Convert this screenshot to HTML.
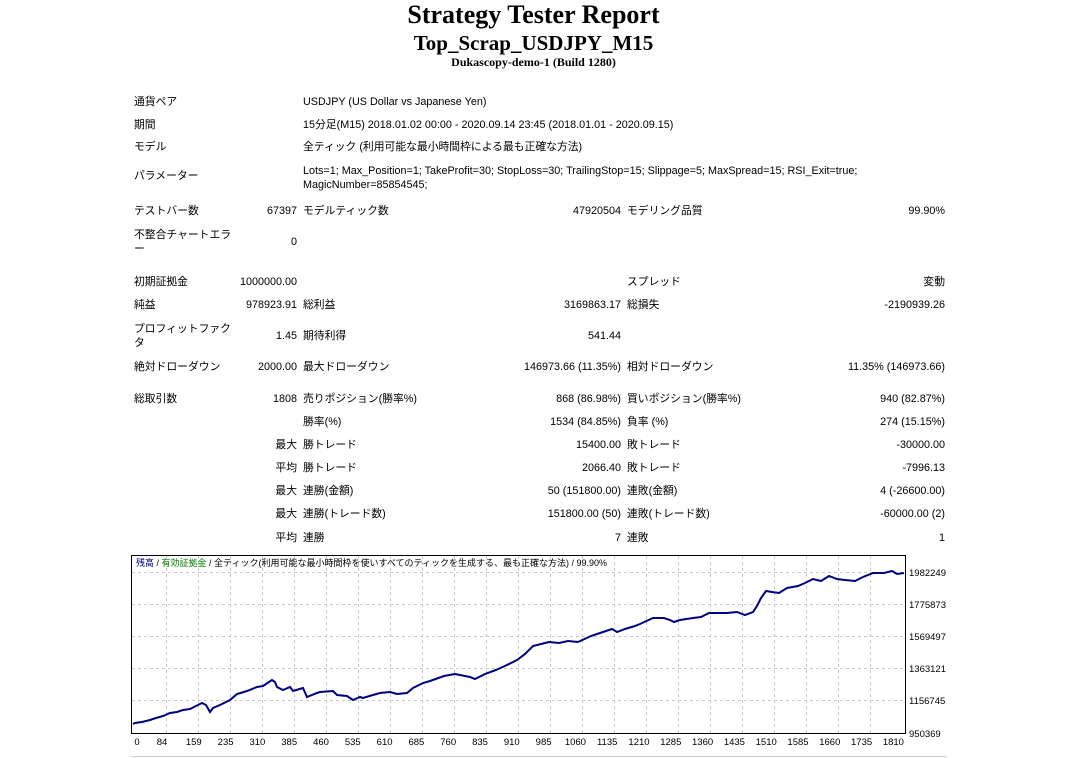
<!DOCTYPE html>
<html><head><meta charset="utf-8">
<style>
body{margin:0;width:1067px;height:758px;background:#fff;position:relative;overflow:hidden;font-family:"Liberation Sans","Noto Sans CJK JP",sans-serif;font-size:10.8px;color:#000}
.t{position:absolute;line-height:14px;white-space:nowrap}
.r{text-align:right}
.h{position:absolute;left:0;width:1067px;text-align:center;font-family:"Liberation Serif",serif;font-weight:bold;white-space:nowrap}
</style></head><body>
<div class="h" style="top:0px;font-size:26px;">Strategy Tester Report</div>
<div class="h" style="top:31px;font-size:21px;">Top_Scrap_USDJPY_M15</div>
<div class="h" style="top:55px;font-size:12px;">Dukascopy-demo-1 (Build 1280)</div>

<div class="t" style="left:134px;top:95px">通貨ペア</div><div class="t" style="left:303px;top:95px">USDJPY (US Dollar vs Japanese Yen)</div>
<div class="t" style="left:134px;top:118px">期間</div><div class="t" style="left:303px;top:118px">15分足(M15) 2018.01.02 00:00 - 2020.09.14 23:45 (2018.01.01 - 2020.09.15)</div>
<div class="t" style="left:134px;top:140px">モデル</div><div class="t" style="left:303px;top:140px">全ティック (利用可能な最小時間枠による最も正確な方法)</div>
<div class="t" style="left:134px;top:169px">パラメーター</div><div class="t" style="left:303px;top:164px">Lots=1; Max_Position=1; TakeProfit=30; StopLoss=30; TrailingStop=15; Slippage=5; MaxSpread=15; RSI_Exit=true;<br>MagicNumber=85854545;</div>

<div class="t" style="left:134px;top:204px">テストバー数</div><div class="t r" style="right:770px;top:204px">67397</div>
<div class="t" style="left:303px;top:204px">モデルティック数</div><div class="t r" style="right:446px;top:204px">47920504</div>
<div class="t" style="left:627px;top:204px">モデリング品質</div><div class="t r" style="right:122px;top:204px">99.90%</div>
<div class="t" style="left:134px;top:228px">不整合チャートエラ<br>ー</div><div class="t r" style="right:770px;top:235px">0</div>

<div class="t" style="left:134px;top:275px">初期証拠金</div><div class="t r" style="right:770px;top:275px">1000000.00</div>
<div class="t" style="left:627px;top:275px">スプレッド</div><div class="t r" style="right:122px;top:275px">変動</div>
<div class="t" style="left:134px;top:298px">純益</div><div class="t r" style="right:770px;top:298px">978923.91</div>
<div class="t" style="left:303px;top:298px">総利益</div><div class="t r" style="right:446px;top:298px">3169863.17</div>
<div class="t" style="left:627px;top:298px">総損失</div><div class="t r" style="right:122px;top:298px">-2190939.26</div>
<div class="t" style="left:134px;top:322px">プロフィットファク<br>タ</div><div class="t r" style="right:770px;top:329px">1.45</div>
<div class="t" style="left:303px;top:329px">期待利得</div><div class="t r" style="right:446px;top:329px">541.44</div>
<div class="t" style="left:134px;top:360px">絶対ドローダウン</div><div class="t r" style="right:770px;top:360px">2000.00</div>
<div class="t" style="left:303px;top:360px">最大ドローダウン</div><div class="t r" style="right:446px;top:360px">146973.66 (11.35%)</div>
<div class="t" style="left:627px;top:360px">相対ドローダウン</div><div class="t r" style="right:122px;top:360px">11.35% (146973.66)</div>

<div class="t" style="left:134px;top:392px">総取引数</div><div class="t r" style="right:770px;top:392px">1808</div>
<div class="t" style="left:303px;top:392px">売りポジション(勝率%)</div><div class="t r" style="right:446px;top:392px">868 (86.98%)</div>
<div class="t" style="left:627px;top:392px">買いポジション(勝率%)</div><div class="t r" style="right:122px;top:392px">940 (82.87%)</div>
<div class="t" style="left:303px;top:415px">勝率(%)</div><div class="t r" style="right:446px;top:415px">1534 (84.85%)</div>
<div class="t" style="left:627px;top:415px">負率 (%)</div><div class="t r" style="right:122px;top:415px">274 (15.15%)</div>
<div class="t r" style="right:770px;top:438px">最大</div><div class="t" style="left:303px;top:438px">勝トレード</div><div class="t r" style="right:446px;top:438px">15400.00</div>
<div class="t" style="left:627px;top:438px">敗トレード</div><div class="t r" style="right:122px;top:438px">-30000.00</div>
<div class="t r" style="right:770px;top:461px">平均</div><div class="t" style="left:303px;top:461px">勝トレード</div><div class="t r" style="right:446px;top:461px">2066.40</div>
<div class="t" style="left:627px;top:461px">敗トレード</div><div class="t r" style="right:122px;top:461px">-7996.13</div>
<div class="t r" style="right:770px;top:484px">最大</div><div class="t" style="left:303px;top:484px">連勝(金額)</div><div class="t r" style="right:446px;top:484px">50 (151800.00)</div>
<div class="t" style="left:627px;top:484px">連敗(金額)</div><div class="t r" style="right:122px;top:484px">4 (-26600.00)</div>
<div class="t r" style="right:770px;top:507px">最大</div><div class="t" style="left:303px;top:507px">連勝(トレード数)</div><div class="t r" style="right:446px;top:507px">151800.00 (50)</div>
<div class="t" style="left:627px;top:507px">連敗(トレード数)</div><div class="t r" style="right:122px;top:507px">-60000.00 (2)</div>
<div class="t r" style="right:770px;top:531px">平均</div><div class="t" style="left:303px;top:531px">連勝</div><div class="t r" style="right:446px;top:531px">7</div>
<div class="t" style="left:627px;top:531px">連敗</div><div class="t r" style="right:122px;top:531px">1</div>

<svg style="position:absolute;left:0;top:0" width="1067" height="758">
<rect x="131.5" y="555.5" width="774" height="178" fill="#fff" stroke="#000" stroke-width="1"/>
<g stroke="#c8c8c8" stroke-dasharray="3,3" stroke-width="1">
<line x1="132" x2="905" y1="572.5" y2="572.5"/><line x1="132" x2="905" y1="604.5" y2="604.5"/><line x1="132" x2="905" y1="636.5" y2="636.5"/><line x1="132" x2="905" y1="668.5" y2="668.5"/><line x1="132" x2="905" y1="700.5" y2="700.5"/>
<path d="M166.5 556V733M198.5 556V733M230.5 556V733M262.5 556V733M294.5 556V733M326.5 556V733M358.5 556V733M390.5 556V733M422.5 556V733M454.5 556V733M486.5 556V733M518.5 556V733M550.5 556V733M582.5 556V733M614.5 556V733M646.5 556V733M678.5 556V733M710.5 556V733M742.5 556V733M774.5 556V733M806.5 556V733M838.5 556V733M870.5 556V733"/>
</g>
<polyline fill="none" stroke="#000080" stroke-width="2" points="133,724 135,723 142,722 150,720 156,718 163,716 170,713 177,712 183,710 190,709 196,706 202,703 206,705 210,712 213,708 220,705 230,700 237,694 247,691 257,687 263,686 272,680 275,682 277,687 283,690 290,687 293,691 303,688 307,697 317,693 320,692 333,691 337,695 347,696 353,700 360,697 363,698 373,695 380,693 390,692 397,694 407,693 413,688 423,683 430,681 444,676 455,674 465,676 470,677 475,679 485,674 496,670 507,665 517,660 525,654 533,646 541,644 549,642 559,643 568,641 578,642 591,636 600,633 612,629 617,632 625,629 635,626 640,624 653,618 664,618 670,620 674,622 680,620 693,618 701,617 709,613 720,613 727,613 737,612 745,615 753,612 757,606 761,598 766,591 772,592 779,593 787,588 798,586 805,583 813,579 821,581 829,576 837,579 845,580 855,581 863,577 873,573 884,573 892,571 897,574 904,573"/>
<text x="136" y="566" font-family="Liberation Sans, Noto Sans CJK JP, sans-serif" font-size="9"><tspan fill="#000080">残高</tspan> / <tspan fill="#008000">有効証拠金</tspan> / 全ティック(利用可能な最小時間枠を使いすべてのティックを生成する、最も正確な方法) / 99.90%</text>
<g font-family="Liberation Sans, sans-serif" font-size="9.5" fill="#000">
<text x="909" y="576">1982249</text><text x="909" y="608">1775873</text><text x="909" y="640">1569497</text><text x="909" y="672">1363121</text><text x="909" y="704">1156745</text><text x="909" y="737">950369</text>
</g>
<g font-family="Liberation Sans, sans-serif" font-size="9.5" text-anchor="middle">
<text x="137" y="745">0</text><text x="162" y="745">84</text><text x="193.8" y="745">159</text><text x="225.6" y="745">235</text><text x="257.4" y="745">310</text><text x="289.2" y="745">385</text><text x="321" y="745">460</text><text x="352.8" y="745">535</text><text x="384.6" y="745">610</text><text x="416.4" y="745">685</text><text x="448.2" y="745">760</text><text x="480" y="745">835</text><text x="511.8" y="745">910</text><text x="543.6" y="745">985</text><text x="575.4" y="745">1060</text><text x="607.2" y="745">1135</text><text x="639" y="745">1210</text><text x="670.8" y="745">1285</text><text x="702.6" y="745">1360</text><text x="734.4" y="745">1435</text><text x="766.2" y="745">1510</text><text x="798" y="745">1585</text><text x="829.8" y="745">1660</text><text x="861.6" y="745">1735</text><text x="893.4" y="745">1810</text>
</g>
<line x1="131" x2="947" y1="756.5" y2="756.5" stroke="#ccc"/>
</svg>
</body></html>
